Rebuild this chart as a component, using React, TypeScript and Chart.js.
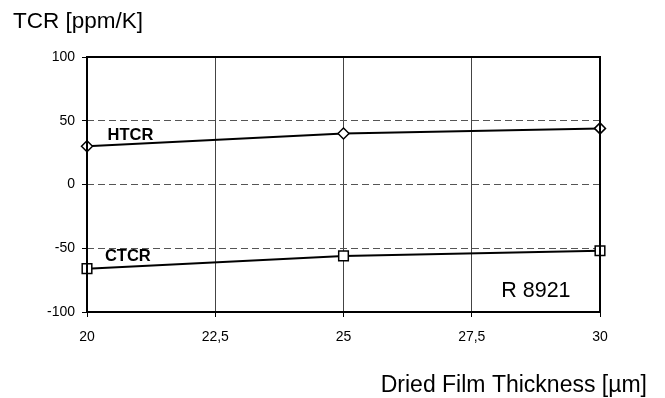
import React, { useEffect, useRef } from "react";
import { Chart, registerables } from "chart.js";

Chart.register(...registerables);

const thickness = [20, 25, 30];
const htcr = [30, 40, 44];
const ctcr = [-66, -56, -52];
const xTicks = [20, 22.5, 25, 27.5, 30];
const yTicks = [-100, -50, 0, 50, 100];

const FONT = "'Liberation Sans', Arial, sans-serif";

const textPlugin = {
  id: "annotations",
  afterDraw(chart: any) {
    const { ctx, chartArea, scales } = chart;
    const x = scales.x;
    const y = scales.y;
    ctx.save();
    // plot frame
    ctx.strokeStyle = "#000";
    ctx.lineWidth = 2;
    ctx.setLineDash([]);
    ctx.strokeRect(chartArea.left, chartArea.top, chartArea.right - chartArea.left, chartArea.bottom - chartArea.top);

    ctx.fillStyle = "#000";
    ctx.textBaseline = "alphabetic";
    ctx.font = `22.5px ${FONT}`;
    ctx.textAlign = "left";
    ctx.fillText("TCR [ppm/K]", 13, 28);
    ctx.font = `23px ${FONT}`;
    ctx.textAlign = "right";
    ctx.fillText("Dried Film Thickness [\u00b5m]", 647, 392);

    ctx.textBaseline = "middle";
    ctx.font = `bold 16.5px ${FONT}`;
    ctx.textAlign = "left";
    ctx.fillText("HTCR", x.getPixelForValue(20.4), y.getPixelForValue(38.5));
    ctx.fillText("CTCR", x.getPixelForValue(20.35), y.getPixelForValue(-56.2));

    ctx.font = `21.5px ${FONT}`;
    ctx.textAlign = "center";
    ctx.fillText("R 8921", x.getPixelForValue(28.75), y.getPixelForValue(-83.5));
    ctx.restore();
  },
};

export default function App() {
  const ref = useRef<HTMLCanvasElement>(null);
  useEffect(() => {
    document.body.style.margin = "0";
    const chart = new Chart(ref.current!, {
      type: "line",
      data: {
        datasets: [
          {
            label: "HTCR",
            data: thickness.map((t, i) => ({ x: t, y: htcr[i] })),
            borderColor: "#000",
            borderWidth: 2,
            pointStyle: "rectRot",
            pointRadius: 5.5,
            pointBackgroundColor: "#fff",
            pointBorderColor: "#000",
            pointBorderWidth: 1.5,
            clip: false,
          },
          {
            label: "CTCR",
            data: thickness.map((t, i) => ({ x: t, y: ctcr[i] })),
            borderColor: "#000",
            borderWidth: 2,
            pointStyle: "rect",
            pointRadius: 6.8,
            pointBackgroundColor: "#fff",
            pointBorderColor: "#000",
            pointBorderWidth: 1.5,
            clip: false,
          },
        ],
      },
      options: {
        animation: false,
        responsive: false,
        devicePixelRatio: 1,
        layout: { padding: { top: 57, right: 65, left: 0, bottom: 0 } },
        plugins: { legend: { display: false }, tooltip: { enabled: false } },
        scales: {
          x: {
            type: "linear",
            min: 20,
            max: 30,
            afterBuildTicks: (s: any) => {
              s.ticks = xTicks.map((v) => ({ value: v }));
            },
            afterFit: (s: any) => {
              s.height = 86;
            },
            ticks: {
              color: "#000",
              font: { family: FONT, size: 14 },
              padding: 12,
              maxRotation: 0,
              callback: (v: any) => String(v).replace(".", ","),
            },
            grid: {
              color: (c: any) => (c.tick && (c.tick.value === 20 || c.tick.value === 30) ? "rgba(0,0,0,0)" : "#444"),
              lineWidth: 1,
              drawTicks: true,
              tickLength: 5,
              tickColor: "#000",
            },
            border: { display: false },
          },
          y: {
            type: "linear",
            min: -100,
            max: 100,
            afterBuildTicks: (s: any) => {
              s.ticks = yTicks.map((v) => ({ value: v }));
            },
            afterFit: (s: any) => {
              s.width = 87;
            },
            ticks: {
              color: "#000",
              font: { family: FONT, size: 14 },
              padding: 7,
            },
            grid: {
              color: (c: any) => (c.tick && (c.tick.value === 100 || c.tick.value === -100) ? "rgba(0,0,0,0)" : "#555"),
              lineWidth: 1,
              drawTicks: true,
              tickLength: 5,
              tickColor: "#000",
              tickBorderDash: [],
            },
            border: { display: false, dash: [7, 4] },
          },
        },
      },
      plugins: [textPlugin],
    });
    return () => chart.destroy();
  }, []);
  return (
    <div style={{ width: 665, height: 398 }}>
      <canvas ref={ref} width={665} height={398} style={{ display: "block" }} />
    </div>
  );
}
